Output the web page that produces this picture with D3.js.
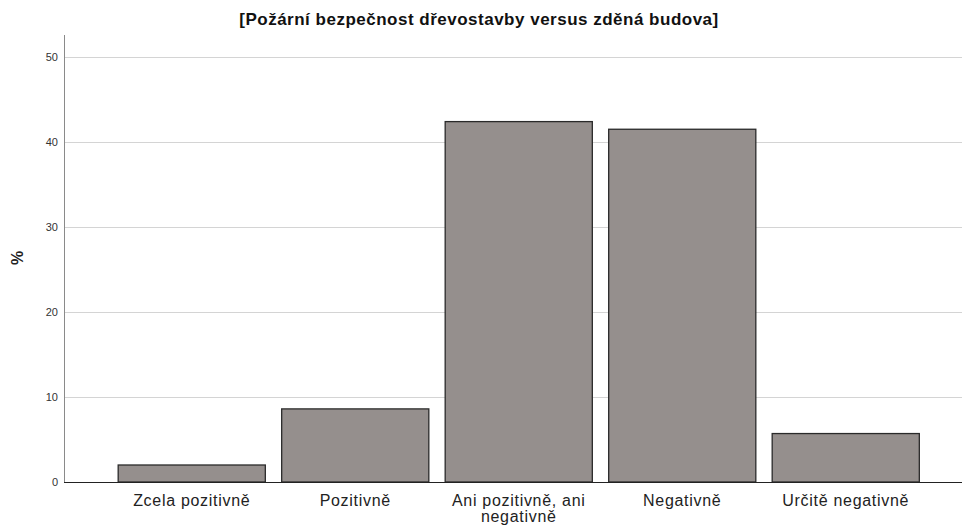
<!DOCTYPE html>
<html>
<head>
<meta charset="utf-8">
<script src="https://cdn.jsdelivr.net/npm/d3@7"></script>
<style>
  body { margin: 0; background: #fff; }
  svg { display: block; font-family: "Liberation Sans", Arial, sans-serif; }
</style>
</head>
<body>
<div id="chart"></div>
<script>
// Bar chart: share of answers (%) per category

const categories = ['Zcela pozitivně', 'Pozitivně', 'Ani pozitivně, ani negativně',
                    'Negativně', 'Určitě negativně']
const values = [2.0, 8.6, 42.4, 41.5, 5.7]
const yTicks = [0, 10, 20, 30, 40, 50]
const title = '[Požární bezpečnost dřevostavby versus zděná budova]'

const W = 962, H = 526
const AX = 64   // y axis x position
const Y0 = 482  // baseline
const YT = 35   // top of y axis

const svg = d3.select('#chart').append('svg').attr('width', W).attr('height', H)

const x = d3.scaleBand(categories, [110, 927.5]).paddingInner(0.1).paddingOuter(0.05)
const y = d3.scaleLinear([0, 50], [Y0, 57])

// gridlines
svg.append('g').selectAll('line').data(yTicks.filter(d => d > 0)).join('line')
  .attr('x1', AX).attr('x2', W)
  .attr('y1', d => y(d) + 0.5).attr('y2', d => y(d) + 0.5)
  .attr('stroke', '#d4d4d4').attr('stroke-width', 1)

// y axis
const ya = svg.append('g').attr('transform', `translate(${AX},0)`)
  .call(d3.axisLeft(y).tickValues(yTicks).tickSize(0).tickPadding(6))
ya.select('.domain').remove()
ya.selectAll('text').attr('font-size', 11).attr('fill', '#333')
  .attr('font-family', '"Liberation Sans", Arial, sans-serif')
svg.append('line').attr('x1', AX + 0.5).attr('x2', AX + 0.5).attr('y1', YT).attr('y2', Y0)
  .attr('stroke', '#8a8a8a')

// bars
svg.append('g').selectAll('rect').data(values).join('rect')
  .attr('x', (d, i) => x(categories[i]))
  .attr('y', d => y(d))
  .attr('width', x.bandwidth())
  .attr('height', d => Y0 - y(d))
  .attr('fill', '#958f8d')
  .attr('stroke', '#2a2a2a').attr('stroke-width', 1.3)

// baseline
svg.append('line').attr('x1', AX).attr('x2', W).attr('y1', Y0 + 0.5).attr('y2', Y0 + 0.5)
  .attr('stroke', '#222').attr('stroke-width', 1)

// x labels (wrap the long one)
const xl = svg.append('g').selectAll('text').data(categories).join('text')
  .attr('x', d => x(d) + x.bandwidth() / 2)
  .attr('y', 506)
  .attr('text-anchor', 'middle')
  .attr('font-size', 16).attr('letter-spacing', 0.7).attr('fill', '#222')
xl.each(function (d) {
  const lines = d.length > 20 ? ['Ani pozitivně, ani', 'negativně'] : [d]
  d3.select(this).selectAll('tspan').data(lines).join('tspan')
    .attr('x', x(d) + x.bandwidth() / 2)
    .attr('dy', (l, i) => i ? 16 : 0)
    .text(l => l)
})

// y label
svg.append('text').attr('transform', 'translate(23,258) rotate(-90)')
  .attr('text-anchor', 'middle').attr('font-size', 16).attr('font-weight', 'bold')
  .attr('fill', '#222').text('%')

// title
svg.append('text').attr('x', 479).attr('y', 25).attr('text-anchor', 'middle')
  .attr('font-size', 17).attr('letter-spacing', 0.5).attr('font-weight', 'bold')
  .attr('fill', '#111').text(title)
</script>
</body>
</html>
